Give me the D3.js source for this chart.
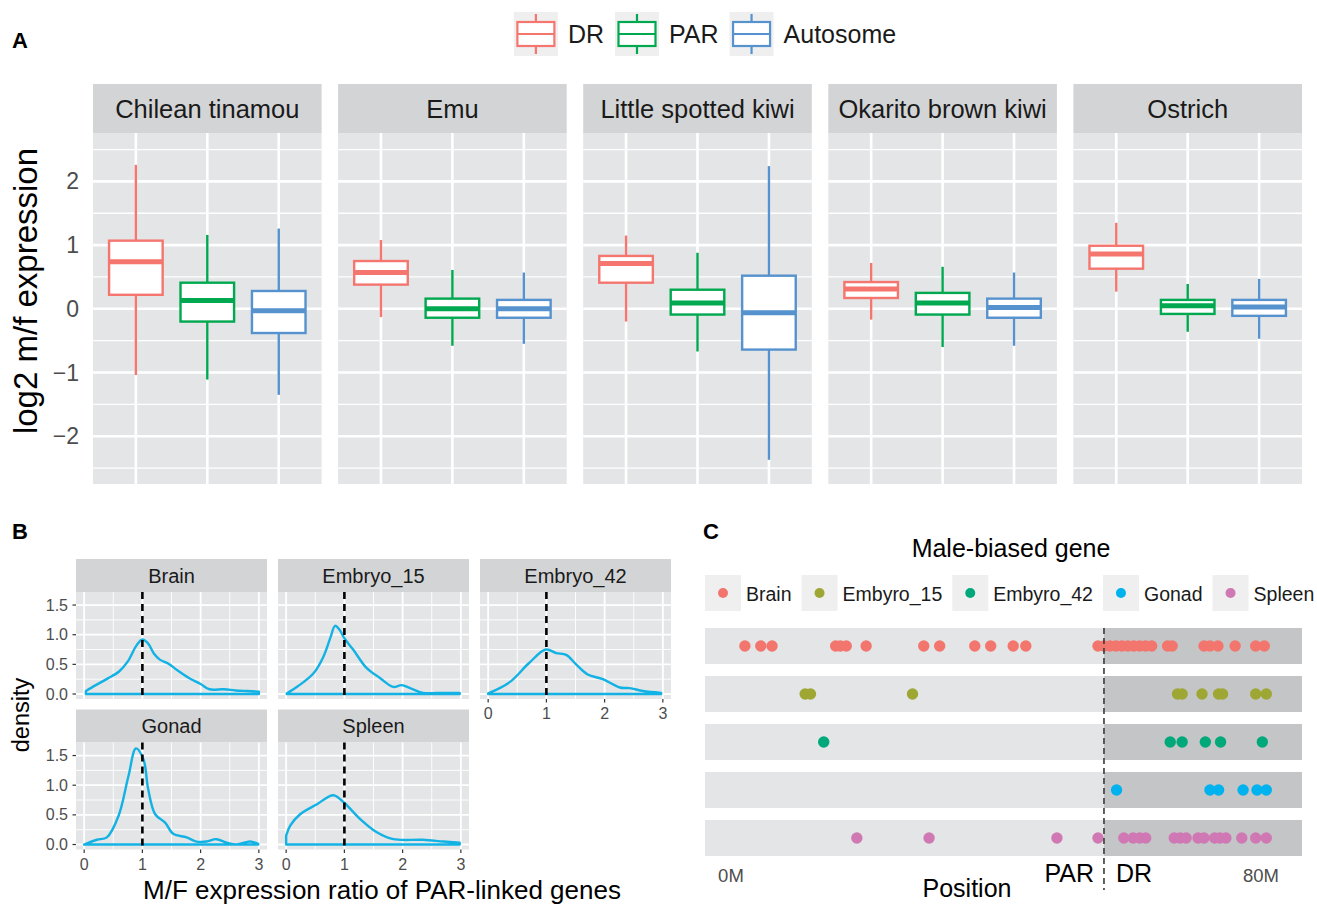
<!DOCTYPE html>
<html>
<head>
<meta charset="utf-8">
<script src="https://cdn.jsdelivr.net/npm/d3@7"></script>
<style>
  body { margin: 0; background: #fff; }
  svg { display: block; font-family: "Liberation Sans", Arial, Helvetica, sans-serif; }
</style>
</head>
<body>
<svg id="fig" width="1317" height="906"></svg>
<script>
// ---- panel A data: [lower whisker, q1, median, q3, upper whisker] per species
const species = ["Chilean tinamou", "Emu", "Little spotted kiwi", "Okarito brown kiwi", "Ostrich"]
const groups = ["DR", "PAR", "Autosome"]
const boxDR = [[-1.04, 0.22, 0.74, 1.07, 2.26], [-0.13, 0.38, 0.57, 0.75, 1.08], [-0.2, 0.41, 0.71, 0.83, 1.15], [-0.17, 0.17, 0.31, 0.42, 0.72], [0.27, 0.63, 0.86, 0.99, 1.35]]
const boxPAR = [[-1.11, -0.2, 0.13, 0.41, 1.16], [-0.58, -0.14, 0.0, 0.16, 0.61], [-0.67, -0.09, 0.09, 0.3, 0.88], [-0.6, -0.09, 0.09, 0.25, 0.66], [-0.36, -0.08, 0.05, 0.14, 0.39]]
const boxAuto = [[-1.35, -0.38, -0.03, 0.28, 1.26], [-0.55, -0.14, 0.0, 0.14, 0.57], [-2.37, -0.64, -0.06, 0.52, 2.24], [-0.58, -0.14, 0.02, 0.16, 0.57], [-0.47, -0.11, 0.03, 0.14, 0.47]]
const aTicks = [-2, -1, 0, 1, 2]

// ---- panel B data: density curves [ratio, density]
const tissuesB = ["Brain", "Embryo_15", "Embryo_42", "Gonad", "Spleen"]
const densBrain = [[0.03, 0.05], [0.2, 0.15], [0.4, 0.26], [0.6, 0.38], [0.75, 0.55], [0.9, 0.82], [1.0, 0.92], [1.1, 0.85], [1.2, 0.68], [1.3, 0.58], [1.45, 0.51], [1.6, 0.4], [1.8, 0.27], [2.0, 0.17], [2.15, 0.08], [2.4, 0.08], [2.6, 0.06], [2.8, 0.05], [3.0, 0.04]]
const densEmb15 = [[0.01, 0.01], [0.2, 0.13], [0.47, 0.35], [0.64, 0.63], [0.76, 0.95], [0.84, 1.15], [0.92, 1.08], [1.0, 0.94], [1.15, 0.75], [1.38, 0.44], [1.61, 0.27], [1.84, 0.12], [1.98, 0.15], [2.13, 0.1], [2.35, 0.02], [2.7, 0.02], [2.98, 0.02]]
const densEmb42 = [[0.0, 0.01], [0.37, 0.2], [0.69, 0.51], [0.99, 0.75], [1.17, 0.69], [1.34, 0.66], [1.51, 0.5], [1.71, 0.33], [1.97, 0.25], [2.26, 0.11], [2.43, 0.1], [2.66, 0.05], [2.97, 0.02]]
const densGonad = [[0.0, 0.0], [0.22, 0.08], [0.39, 0.12], [0.59, 0.48], [0.76, 1.15], [0.89, 1.62], [1.02, 1.43], [1.1, 0.93], [1.22, 0.51], [1.39, 0.37], [1.53, 0.18], [1.76, 0.12], [1.93, 0.05], [2.1, 0.05], [2.27, 0.09], [2.45, 0.03], [2.62, 0.0], [2.85, 0.05], [2.99, 0.01]]
const densSpleen = [[0.0, 0.15], [0.07, 0.32], [0.24, 0.51], [0.53, 0.68], [0.81, 0.83], [1.0, 0.7], [1.27, 0.43], [1.55, 0.21], [1.84, 0.09], [2.35, 0.08], [2.7, 0.05], [2.98, 0.03]]
const bXTicks = [0, 1, 2, 3]
const bYTicks = [0, 0.5, 1, 1.5]

// ---- panel C data: positions (Mb) of male-biased genes
const tissuesC = ["Brain", "Embyro_15", "Embyro_42", "Gonad", "Spleen"]
const posBrain = [2.1, 4.5, 6.2, 15.8, 16.5, 17.4, 20.4, 29.1, 31.5, 36.8, 39.2, 42.6, 44.5, 55.4, 56.3, 57.2, 58.1, 59.0, 59.9, 60.8, 61.7, 62.6, 63.5, 65.9, 66.6, 71.4, 72.3, 73.5, 76.1, 79.2, 80.5]
const posEmb15 = [11.2, 12.0, 27.4, 67.4, 68.1, 71.1, 73.6, 74.2, 79.2, 80.8]
const posEmb42 = [14.0, 66.3, 68.1, 71.6, 73.9, 80.2]
const posGonad = [58.2, 72.3, 73.6, 77.3, 79.4, 80.8]
const posSpleen = [19.0, 29.9, 49.2, 55.4, 59.3, 60.7, 61.7, 62.6, 66.9, 67.8, 68.7, 70.5, 71.4, 73.0, 73.8, 74.7, 77.1, 79.2, 80.8]
const parBoundary = 56.3
const cTicks = [0, 80]

const svg = d3.select("#fig")
const panelBg = "#E4E5E7", stripBg = "#D3D4D6", tickCol = "#4D4D4D"

// ================= A =================
svg.append("text").attr("x", 12).attr("y", 48).attr("font-size", 22).attr("font-weight", "bold").text("A")

const colA = d3.scaleOrdinal().domain(groups).range(["#F4766F", "#00A84F", "#5592CE"])
const aLeft = 93, aRight = 1302, aGap = 16.5, aTop = 84, aStrip = 49, aBottom = 484
const aW = (aRight - aLeft - 4 * aGap) / 5
const yA = d3.scaleLinear().domain([-2.75, 2.76]).range([aBottom, aTop + aStrip])
const xA = d3.scalePoint().domain(groups).range([0, aW]).padding(0.6)
const boxW = xA.step() * 0.75
const statsFor = { DR: boxDR, PAR: boxPAR, Autosome: boxAuto }

species.forEach((sp, i) => {
  const g = svg.append("g").attr("transform", `translate(${aLeft + i * (aW + aGap)},0)`)
  g.append("rect").attr("x", 0).attr("y", aTop).attr("width", aW).attr("height", aStrip).attr("fill", stripBg)
  g.append("text").attr("x", aW / 2).attr("y", aTop + aStrip / 2 + 9).attr("text-anchor", "middle")
    .attr("font-size", 25.5).attr("fill", "#1a1a1a").text(sp)
  g.append("rect").attr("x", 0).attr("y", aTop + aStrip).attr("width", aW).attr("height", aBottom - aTop - aStrip).attr("fill", panelBg)
  g.selectAll(".minor").data([-2.5, -1.5, -0.5, 0.5, 1.5, 2.5]).enter().append("line")
    .attr("x1", 0).attr("x2", aW).attr("y1", d => yA(d)).attr("y2", d => yA(d))
    .attr("stroke", "#fff").attr("stroke-width", 1.3)
  g.selectAll(".major").data(aTicks).enter().append("line")
    .attr("x1", 0).attr("x2", aW).attr("y1", d => yA(d)).attr("y2", d => yA(d))
    .attr("stroke", "#fff").attr("stroke-width", 2.6)
  g.selectAll(".vmaj").data(groups).enter().append("line")
    .attr("x1", d => xA(d)).attr("x2", d => xA(d)).attr("y1", aTop + aStrip).attr("y2", aBottom)
    .attr("stroke", "#fff").attr("stroke-width", 2.6)

  groups.forEach(grp => {
    const s = statsFor[grp][i]
    const cx = xA(grp), c = colA(grp)
    g.append("line").attr("x1", cx).attr("x2", cx).attr("y1", yA(s[4])).attr("y2", yA(s[3]))
      .attr("stroke", c).attr("stroke-width", 2.4)
    g.append("line").attr("x1", cx).attr("x2", cx).attr("y1", yA(s[1])).attr("y2", yA(s[0]))
      .attr("stroke", c).attr("stroke-width", 2.4)
    g.append("rect").attr("x", cx - boxW / 2).attr("y", yA(s[3])).attr("width", boxW)
      .attr("height", yA(s[1]) - yA(s[3])).attr("fill", "#fff").attr("stroke", c).attr("stroke-width", 2.4)
    g.append("line").attr("x1", cx - boxW / 2).attr("x2", cx + boxW / 2).attr("y1", yA(s[2])).attr("y2", yA(s[2]))
      .attr("stroke", c).attr("stroke-width", 5)
  })
})

svg.selectAll(".ya").data(aTicks).enter().append("text")
  .attr("x", 79).attr("y", d => yA(d) + 8).attr("text-anchor", "end")
  .attr("font-size", 23).attr("fill", tickCol).text(d => d < 0 ? "\u2212" + Math.abs(d) : d)

svg.append("text").attr("transform", `translate(37,291) rotate(-90)`)
  .attr("text-anchor", "middle").attr("font-size", 33).text("log2 m/f expression")

// legend A
const legA = svg.append("g")
let lx = 0
groups.forEach(grp => {
  const item = legA.append("g").attr("transform", `translate(${lx},12)`)
  const c = colA(grp)
  item.append("rect").attr("width", 44).attr("height", 44).attr("fill", "#EFEFEF")
  item.append("line").attr("x1", 22).attr("x2", 22).attr("y1", 2).attr("y2", 42).attr("stroke", c).attr("stroke-width", 2.2)
  item.append("rect").attr("x", 3.5).attr("y", 10).attr("width", 37).attr("height", 24).attr("fill", "#fff").attr("stroke", c).attr("stroke-width", 2.2)
  item.append("line").attr("x1", 3.5).attr("x2", 40.5).attr("y1", 22).attr("y2", 22).attr("stroke", c).attr("stroke-width", 2.2)
  const t = item.append("text").attr("x", 54).attr("y", 31).attr("font-size", 25).attr("fill", "#1a1a1a").text(grp)
  lx += 54 + t.node().getComputedTextLength() + 11
})
legA.attr("transform", `translate(${705 - (lx - 11) / 2},0)`)

// ================= B =================
svg.append("text").attr("x", 12).attr("y", 539).attr("font-size", 22).attr("font-weight", "bold").text("B")

const bCols = [76, 278, 480], bW = 191, bStrip = 33, bH = 107, bRows = [559, 709.5]
const xB = d3.scaleLinear().domain([-0.14, 3.14]).range([0, bW])
const yB = d3.scaleLinear().domain([-0.084, 1.72]).range([bH, 0])
const densities = [densBrain, densEmb15, densEmb42, densGonad, densSpleen]
const line = d3.line().x(d => xB(d[0])).y(d => yB(d[1])).curve(d3.curveCatmullRom.alpha(0.5))

tissuesB.forEach((t, i) => {
  const col = i % 3, row = Math.floor(i / 3)
  const g = svg.append("g").attr("transform", `translate(${bCols[col]},${bRows[row]})`)
  g.append("rect").attr("width", bW).attr("height", bStrip).attr("fill", stripBg)
  g.append("text").attr("x", bW / 2).attr("y", bStrip / 2 + 7).attr("text-anchor", "middle")
    .attr("font-size", 20).attr("fill", "#1a1a1a").text(t)
  const p = g.append("g").attr("transform", `translate(0,${bStrip})`)
  p.append("rect").attr("width", bW).attr("height", bH).attr("fill", panelBg)
  p.selectAll(".ym").data([0.25, 0.75, 1.25]).enter().append("line")
    .attr("x1", 0).attr("x2", bW).attr("y1", d => yB(d)).attr("y2", d => yB(d)).attr("stroke", "#fff").attr("stroke-width", 0.9)
  p.selectAll(".xm").data([0.5, 1.5, 2.5]).enter().append("line")
    .attr("y1", 0).attr("y2", bH).attr("x1", d => xB(d)).attr("x2", d => xB(d)).attr("stroke", "#fff").attr("stroke-width", 0.9)
  p.selectAll(".yM").data(bYTicks).enter().append("line")
    .attr("x1", 0).attr("x2", bW).attr("y1", d => yB(d)).attr("y2", d => yB(d)).attr("stroke", "#fff").attr("stroke-width", 1.8)
  p.selectAll(".xM").data(bXTicks).enter().append("line")
    .attr("y1", 0).attr("y2", bH).attr("x1", d => xB(d)).attr("x2", d => xB(d)).attr("stroke", "#fff").attr("stroke-width", 1.8)

  const dd = densities[i]
  p.append("path").attr("d", line(dd) + "L" + xB(dd[dd.length - 1][0]) + "," + yB(0) + "L" + xB(dd[0][0]) + "," + yB(0) + "Z")
    .attr("fill", "none").attr("stroke", "#12B2E4").attr("stroke-width", 2.4).attr("stroke-linejoin", "round")
  p.append("line").attr("x1", xB(1)).attr("x2", xB(1)).attr("y1", 0).attr("y2", bH)
    .attr("stroke", "#000").attr("stroke-width", 2.6).attr("stroke-dasharray", "7,5")

  if (col === 0) {
    p.selectAll(".yt").data(bYTicks).enter().append("line")
      .attr("x1", -3.5).attr("x2", 0).attr("y1", d => yB(d)).attr("y2", d => yB(d)).attr("stroke", "#333").attr("stroke-width", 1.2)
    p.selectAll(".yl").data(bYTicks).enter().append("text")
      .attr("x", -8).attr("y", d => yB(d) + 5.5).attr("text-anchor", "end").attr("font-size", 16).attr("fill", tickCol)
      .text(d => d3.format(".1f")(d))
  }
  if (row === 1 || col === 2) {
    p.selectAll(".xt").data(bXTicks).enter().append("line")
      .attr("x1", d => xB(d)).attr("x2", d => xB(d)).attr("y1", bH).attr("y2", bH + 3.5).attr("stroke", "#333").attr("stroke-width", 1.2)
    p.selectAll(".xl").data(bXTicks).enter().append("text")
      .attr("x", d => xB(d)).attr("y", bH + 20).attr("text-anchor", "middle").attr("font-size", 16).attr("fill", tickCol).text(d => d)
  }
})

svg.append("text").attr("transform", "translate(29,715) rotate(-90)").attr("text-anchor", "middle")
  .attr("font-size", 23.5).text("density")
svg.append("text").attr("x", 382).attr("y", 899).attr("text-anchor", "middle").attr("font-size", 26)
  .text("M/F expression ratio of PAR-linked genes")

// ================= C =================
svg.append("text").attr("x", 703).attr("y", 539).attr("font-size", 22).attr("font-weight", "bold").text("C")
svg.append("text").attr("x", 1011).attr("y", 557).attr("text-anchor", "middle").attr("font-size", 25).text("Male-biased gene")

const colC = d3.scaleOrdinal().domain(tissuesC).range(["#F2766E", "#9EA734", "#00A87A", "#00B2EE", "#CF78B4"])
const xC = d3.scaleLinear().domain([-3.92, 86.19]).range([705, 1302])
const yC = d3.scaleBand().domain(tissuesC).range([628, 856]).paddingInner(0.25)
const positions = [posBrain, posEmb15, posEmb42, posGonad, posSpleen]

tissuesC.forEach((t, i) => {
  const y0 = yC(t), h = yC.bandwidth()
  svg.append("rect").attr("x", xC.range()[0]).attr("y", y0).attr("width", xC(parBoundary) - xC.range()[0]).attr("height", h).attr("fill", "#E4E5E6")
  svg.append("rect").attr("x", xC(parBoundary)).attr("y", y0).attr("width", xC.range()[1] - xC(parBoundary)).attr("height", h).attr("fill", "#C4C5C7")
  svg.selectAll(null).data(positions[i]).enter().append("circle")
    .attr("cx", d => xC(d)).attr("cy", y0 + h / 2).attr("r", 5.7).attr("fill", colC(t))
})

svg.append("line").attr("x1", xC(parBoundary)).attr("x2", xC(parBoundary)).attr("y1", 628).attr("y2", 890)
  .attr("stroke", "#3a3a3a").attr("stroke-width", 1.6).attr("stroke-dasharray", "6,4")

svg.selectAll(".cx").data(cTicks).enter().append("text")
  .attr("x", d => xC(d)).attr("y", 882).attr("text-anchor", "middle").attr("font-size", 18.5).attr("fill", tickCol)
  .text(d => d + "M")
svg.append("text").attr("x", xC(parBoundary) - 10).attr("y", 882).attr("text-anchor", "end").attr("font-size", 25).text("PAR")
svg.append("text").attr("x", xC(parBoundary) + 12).attr("y", 882).attr("font-size", 25).text("DR")
svg.append("text").attr("x", 967).attr("y", 897).attr("text-anchor", "middle").attr("font-size", 25).text("Position")

// legend C
const legC = svg.append("g")
let cx0 = 0
tissuesC.forEach(t => {
  const item = legC.append("g").attr("transform", `translate(${cx0},575)`)
  item.append("rect").attr("width", 36).attr("height", 36).attr("fill", "#EFEFEF")
  item.append("circle").attr("cx", 18).attr("cy", 18).attr("r", 5).attr("fill", colC(t))
  const tx = item.append("text").attr("x", 41).attr("y", 25.5).attr("font-size", 19.5).attr("fill", "#1a1a1a").text(t)
  cx0 += 41 + tx.node().getComputedTextLength() + 10
})
legC.attr("transform", `translate(${705},0)`)
</script>
</body>
</html>
